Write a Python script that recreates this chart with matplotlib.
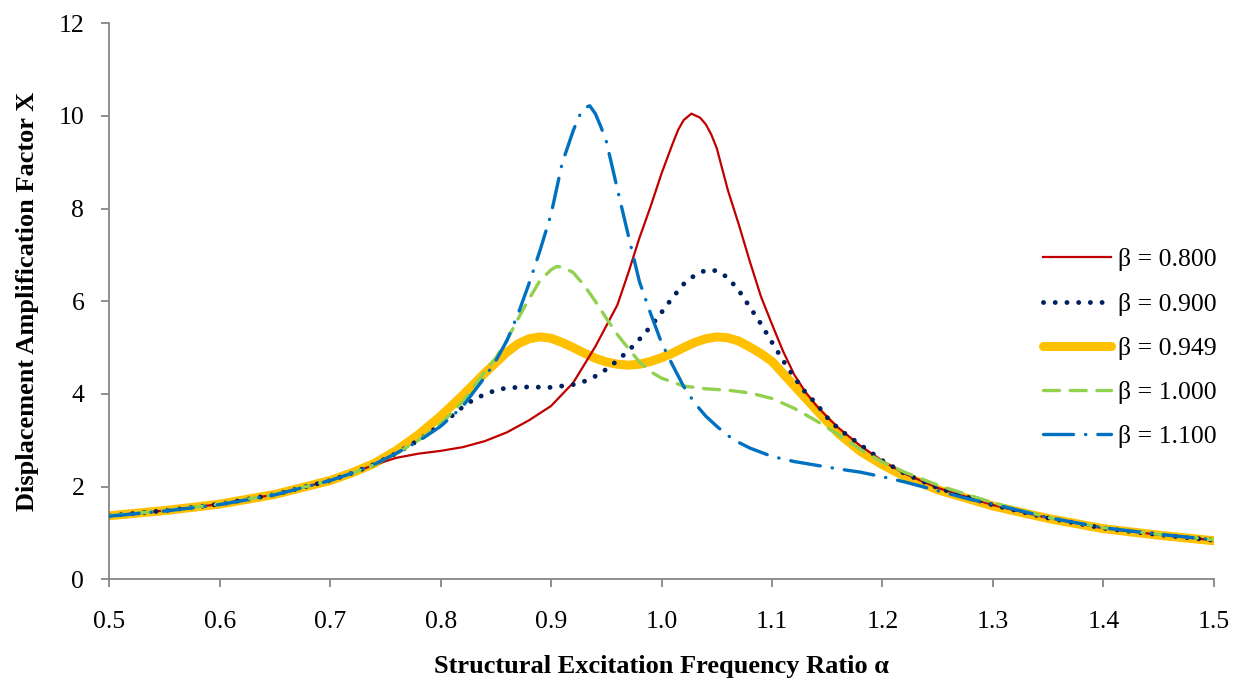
import matplotlib
matplotlib.use("Agg")
import matplotlib.pyplot as plt

# Frequency ratio / amplification samples for each tuning ratio beta
alpha_08 = [0.50, 0.55, 0.60, 0.65, 0.70, 0.72, 0.74, 0.76, 0.78, 0.80, 0.82, 0.84,
            0.86, 0.88, 0.90, 0.92, 0.94, 0.96, 0.97, 0.98, 0.99, 1.00, 1.01, 1.015,
            1.02, 1.027, 1.035, 1.04, 1.045, 1.05, 1.06, 1.07, 1.08, 1.09, 1.10, 1.11,
            1.12, 1.13, 1.14, 1.15, 1.16, 1.18, 1.20, 1.22, 1.25, 1.30, 1.35, 1.40,
            1.45, 1.50]
x_08 = [1.37, 1.48, 1.62, 1.83, 2.13, 2.29, 2.47, 2.62, 2.71, 2.77, 2.85, 2.98,
        3.17, 3.43, 3.74, 4.24, 5.02, 5.92, 6.62, 7.37, 8.04, 8.76, 9.40, 9.70,
        9.91, 10.05, 9.96, 9.82, 9.60, 9.30, 8.40, 7.65, 6.85, 6.10, 5.50, 4.92,
        4.42, 4.05, 3.75, 3.50, 3.27, 2.88, 2.55, 2.28, 1.97, 1.60, 1.32, 1.10,
        0.96, 0.84]

alpha_09 = [0.50, 0.55, 0.60, 0.65, 0.70, 0.72, 0.74, 0.76, 0.78, 0.80, 0.81, 0.82,
            0.83, 0.84, 0.85, 0.86, 0.88, 0.90, 0.92, 0.93, 0.94, 0.95, 0.96, 0.97,
            0.98, 0.99, 1.00, 1.01, 1.02, 1.03, 1.04, 1.05, 1.06, 1.07, 1.08, 1.09,
            1.10, 1.11, 1.12, 1.13, 1.14, 1.15, 1.16, 1.18, 1.20, 1.22, 1.25, 1.30,
            1.35, 1.40, 1.45, 1.50]
x_09 = [1.37, 1.48, 1.62, 1.83, 2.13, 2.29, 2.48, 2.72, 3.00, 3.33, 3.52, 3.72,
        3.88, 3.99, 4.08, 4.13, 4.15, 4.14, 4.20, 4.27, 4.38, 4.53, 4.72, 4.93,
        5.18, 5.45, 5.76, 6.08, 6.37, 6.56, 6.67, 6.66, 6.51, 6.23, 5.87, 5.51,
        5.11, 4.72, 4.36, 4.04, 3.79, 3.49, 3.25, 2.90, 2.56, 2.28, 1.97, 1.60,
        1.32, 1.10, 0.96, 0.84]

alpha_0949 = [0.50, 0.55, 0.60, 0.65, 0.70, 0.72, 0.74, 0.76, 0.78, 0.80, 0.82, 0.84,
              0.86, 0.87, 0.88, 0.89, 0.90, 0.91, 0.92, 0.93, 0.94, 0.95, 0.96, 0.97,
              0.98, 0.99, 1.00, 1.01, 1.02, 1.03, 1.04, 1.05, 1.06, 1.07, 1.08, 1.09,
              1.10, 1.12, 1.14, 1.16, 1.18, 1.20, 1.22, 1.25, 1.30, 1.35, 1.40, 1.45,
              1.50]
x_0949 = [1.37, 1.48, 1.62, 1.83, 2.13, 2.30, 2.50, 2.78, 3.12, 3.52, 3.97, 4.45,
          4.90, 5.08, 5.19, 5.23, 5.20, 5.11, 5.00, 4.88, 4.77, 4.69, 4.64, 4.62,
          4.64, 4.70, 4.78, 4.88, 5.00, 5.11, 5.19, 5.23, 5.21, 5.14, 5.01, 4.87,
          4.70, 4.18, 3.66, 3.15, 2.76, 2.47, 2.22, 1.93, 1.58, 1.31, 1.09, 0.95,
          0.83]

alpha_10 = [0.50, 0.55, 0.60, 0.65, 0.70, 0.72, 0.74, 0.76, 0.78, 0.80, 0.82, 0.84,
            0.85, 0.86, 0.87, 0.88, 0.89, 0.90, 0.905, 0.91, 0.92, 0.93, 0.94, 0.95,
            0.96, 0.97, 0.98, 0.99, 1.00, 1.02, 1.04, 1.06, 1.08, 1.10, 1.12, 1.14,
            1.16, 1.18, 1.20, 1.22, 1.25, 1.30, 1.35, 1.40, 1.45, 1.50]
x_10 = [1.37, 1.48, 1.62, 1.83, 2.13, 2.29, 2.47, 2.72, 3.00, 3.35, 3.83, 4.48,
        4.78, 5.16, 5.62, 6.05, 6.45, 6.68, 6.75, 6.74, 6.62, 6.34, 6.00, 5.63,
        5.28, 4.98, 4.69, 4.48, 4.34, 4.17, 4.11, 4.08, 4.02, 3.90, 3.69, 3.42,
        3.12, 2.80, 2.53, 2.31, 2.03, 1.65, 1.33, 1.11, 0.97, 0.85]

alpha_11 = [0.50, 0.55, 0.60, 0.65, 0.70, 0.72, 0.74, 0.76, 0.78, 0.80, 0.82, 0.84,
            0.85, 0.86, 0.87, 0.88, 0.89, 0.90, 0.91, 0.92, 0.925, 0.93, 0.935, 0.94,
            0.945, 0.95, 0.96, 0.97, 0.98, 0.99, 1.00, 1.01, 1.02, 1.03, 1.04, 1.05,
            1.06, 1.07, 1.08, 1.10, 1.12, 1.14, 1.16, 1.18, 1.20, 1.22, 1.25, 1.28,
            1.30, 1.35, 1.40, 1.45, 1.50]
x_11 = [1.36, 1.47, 1.61, 1.82, 2.13, 2.29, 2.48, 2.72, 2.98, 3.30, 3.73, 4.36,
        4.72, 5.15, 5.72, 6.38, 7.10, 7.88, 8.98, 9.68, 9.98, 10.17, 10.22, 10.05,
        9.77, 9.45, 8.42, 7.41, 6.42, 5.74, 5.10, 4.62, 4.16, 3.80, 3.52, 3.30,
        3.10, 2.95, 2.83, 2.65, 2.54, 2.46, 2.38, 2.31, 2.21, 2.10, 1.91, 1.72,
        1.62, 1.33, 1.11, 0.97, 0.85]

labels = ["β = 0.800", "β = 0.900", "β = 0.949", "β = 1.000", "β = 1.100"]
x_ticks = [0.5, 0.6, 0.7, 0.8, 0.9, 1.0, 1.1, 1.2, 1.3, 1.4, 1.5]
y_ticks = [0, 2, 4, 6, 8, 10, 12]

plt.rcParams["font.family"] = ["Liberation Serif", "DejaVu Serif"]

fig = plt.figure(figsize=(12.36, 6.83), dpi=100)
ax = fig.add_axes([0.0884, 0.152, 0.8937, 0.8139])

ax.plot(alpha_08, x_08, color="#C00000", lw=1.6, zorder=3, label=labels[0])
ax.plot(alpha_09, x_09, color="#002060", lw=3.5, linestyle=(0, (0.01, 2.4)),
        dash_capstyle="round", zorder=4, label=labels[1])
ax.plot(alpha_0949, x_0949, color="#FFC000", lw=6.5, solid_capstyle="round",
        solid_joinstyle="round", zorder=2, label=labels[2])
ax.plot(alpha_10, x_10, color="#92D050", lw=2.4, linestyle=(0, (4.8, 3.2)),
        dash_capstyle="round", zorder=5, label=labels[3])
ax.plot(alpha_11, x_11, color="#0070C0", lw=2.4,
        linestyle=(0, (9.0, 3.6, 0.1, 3.6)), dash_capstyle="round",
        zorder=6, label=labels[4])

ax.set_xlim(0.5, 1.5)
ax.set_ylim(0, 12)
ax.set_xticks(x_ticks)
ax.set_xticklabels([f"{t:.1f}" for t in x_ticks])
ax.set_yticks(y_ticks)

for side in ("top", "right"):
    ax.spines[side].set_visible(False)
for side in ("left", "bottom"):
    ax.spines[side].set_color("#868686")
    ax.spines[side].set_linewidth(1.3)

ax.tick_params(axis="both", direction="out", length=6, width=1.3,
               color="#868686", labelsize=18.5, labelcolor="black")
ax.tick_params(axis="x", pad=17)
ax.tick_params(axis="y", pad=12)

ax.set_xlabel("Structural Excitation Frequency Ratio α", fontsize=19,
              fontweight="bold", labelpad=16)
ax.set_ylabel("Displacement Amplification Factor X", fontsize=19,
              fontweight="bold", labelpad=14)

leg = ax.legend(loc="center left", bbox_to_anchor=(0.845, 0.4157),
                frameon=False, fontsize=18.5, handlelength=2.65,
                handletextpad=0.3, labelspacing=0.82, borderpad=0,
                borderaxespad=0)

fig.savefig("out.png", dpi=100)
